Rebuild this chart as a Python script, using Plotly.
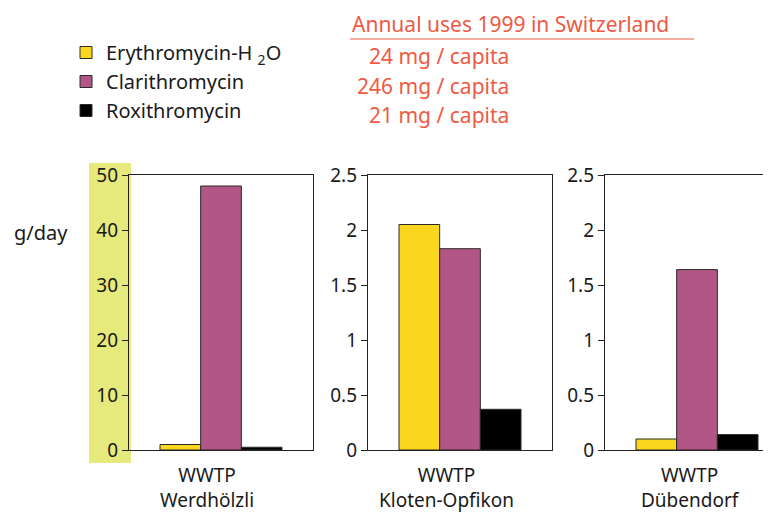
import plotly.graph_objects as go

# ── Data ──────────────────────────────────────────────────────────────────────
COMPOUNDS = ["Erythromycin-H <sub>2</sub>O", "Clarithromycin", "Roxithromycin"]
PLANT_TYPE = "WWTP"
PLANTS = ["Werdhölzli", "Kloten-Opfikon", "Dübendorf"]

WERDHOELZLI = [1.0, 48.0, 0.5]
KLOTEN_OPFIKON = [2.05, 1.83, 0.37]
DUEBENDORF = [0.10, 1.64, 0.14]

USES_MG_PER_CAPITA = [24, 246, 21]

Y_MAX = [50, 2.5, 2.5]
Y_DTICK = [10, 0.5, 0.5]

# ── Design tokens ─────────────────────────────────────────────────────────────
FONT = "Noto Sans, Open Sans, sans-serif"
INK = "#1a1a1a"
RED = "#EE5A43"
HILITE = "#E6E97B"
BAR_COLORS = ["#FBD61E", "#B25685", "#000000"]

W, H = 771, 514
OFF = 8  # page body margin: the figure sits 8px in from the window corner


def px(x):
    """screen pixel x -> paper fraction"""
    return (x - OFF) / W


def py(y):
    """screen pixel y -> paper fraction"""
    return (H - (y - OFF)) / H


# panel extents in screen pixels (left, right); third panel runs off the page
PANELS = [(129, 313), (368, 552), (605, W + OFF)]
PANEL_W = 184
LABEL_X = [207, 446, 690]

fig = go.Figure()

series = [WERDHOELZLI, KLOTEN_OPFIKON, DUEBENDORF]
for p, vals in enumerate(series):
    ax = "" if p == 0 else str(p + 1)
    for c, name in enumerate(COMPOUNDS):
        fig.add_trace(go.Bar(
            x=[PLANTS[p]],
            y=[vals[c]],
            name=name,
            legendgroup=f"g{c}",
            showlegend=(p == 0),
            marker_color=BAR_COLORS[c],
            marker_line=dict(color="#2a2a2a", width=1),
            xaxis="x" + ax,
            yaxis="y" + ax,
        ))

layout = dict(
    width=W, height=H,
    paper_bgcolor="white",
    plot_bgcolor="white",
    font=dict(family=FONT, color=INK, size=18),
    barmode="group",
    bargap=0.337,
    bargroupgap=0,
    margin=dict(l=0, r=0, t=0, b=0, pad=0, autoexpand=False),
    legend=dict(
        x=px(66), y=py(33), xanchor="left", yanchor="top",
        font=dict(size=20, color=INK),
        bgcolor="rgba(0,0,0,0)",
        tracegroupgap=0,
        itemwidth=30,
    ),
)

for p, (l, r) in enumerate(PANELS):
    ax = "" if p == 0 else str(p + 1)
    visible = (r - l) / PANEL_W
    layout["xaxis" + ax] = dict(
        domain=[px(l), min(px(r), 1.0)],
        anchor="y" + ax,
        type="category",
        range=[-0.5, -0.5 + visible],
        showticklabels=False,
        ticks="",
        showline=True, linecolor="#222", linewidth=1.3,
        mirror=True,
        showgrid=False, zeroline=False,
        automargin=False,
        fixedrange=True,
    )
    layout["yaxis" + ax] = dict(
        domain=[py(450), py(175)],
        anchor="x" + ax,
        range=[0, Y_MAX[p]],
        dtick=Y_DTICK[p],
        ticks="outside", ticklen=6, tickcolor="#222",
        tickfont=dict(size=19, color=INK),
        showline=True, linecolor="#222", linewidth=1.3,
        mirror=(p < 2),
        showgrid=False, zeroline=False,
        automargin=False,
        fixedrange=True,
    )

fig.update_layout(**layout)

# category labels under each panel
for p, name in enumerate(PLANTS):
    fig.add_annotation(
        text=f"{PLANT_TYPE}<br>{name}", x=px(LABEL_X[p]), y=py(487),
        xref="paper", yref="paper", xanchor="center", yanchor="middle",
        showarrow=False, font=dict(size=19, color=INK), align="center",
    )

# highlighted tick-label strip on the first panel
fig.add_shape(
    type="rect", xref="paper", yref="paper", layer="below",
    x0=px(89), x1=px(131), y0=py(463), y1=py(163),
    fillcolor=HILITE, line_width=0,
)

fig.add_annotation(
    text="g/day", x=px(12), y=py(232), xref="paper", yref="paper",
    xanchor="left", yanchor="middle", showarrow=False,
    font=dict(size=20, color=INK),
)

# red header block
fig.add_annotation(
    text="Annual uses 1999 in Switzerland", x=px(350), y=py(24),
    xref="paper", yref="paper", xanchor="left", yanchor="middle",
    showarrow=False, font=dict(size=21, color=RED),
)
fig.add_shape(
    type="line", xref="paper", yref="paper",
    x0=px(350), x1=px(694), y0=py(39), y1=py(39),
    line=dict(color=RED, width=1),
)
for i, mg in enumerate(USES_MG_PER_CAPITA):
    fig.add_annotation(
        text=f"{mg} mg / capita", x=px(511), y=py(56 + i * 29.5),
        xref="paper", yref="paper", xanchor="right", yanchor="middle",
        showarrow=False, font=dict(size=21, color=RED),
    )

fig.write_html("out.html")
